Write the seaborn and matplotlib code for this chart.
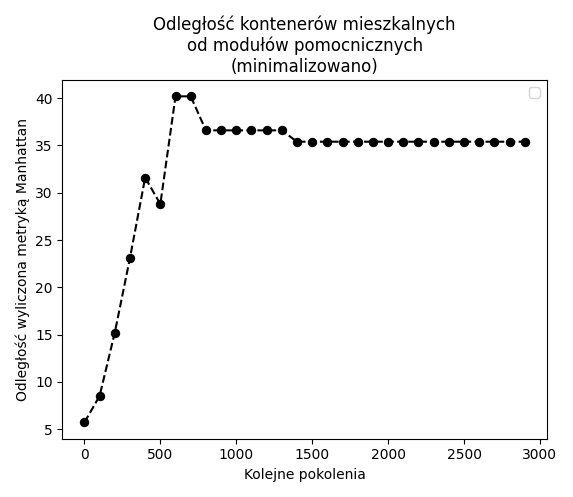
import numpy as np
import pandas as pd
import seaborn as sns
import matplotlib.pyplot as plt

# DADOS
pokolenia = list(range(0, 3000, 100))
odleglosc = [5.7, 8.5, 15.2, 23.1, 31.6, 28.8, 40.2, 40.2,
             36.6, 36.6, 36.6, 36.6, 36.6, 36.6] + [35.4] * 16

df = pd.DataFrame({"x": pokolenia, "y": odleglosc})

fig, ax = plt.subplots(figsize=(5.73, 4.97), dpi=100)
sns.lineplot(data=df, x="x", y="y", ax=ax, color="black", linestyle="--",
             marker="o", markersize=6, markeredgecolor="black")
ax.legend()
ax.set_title("Odległość kontenerów mieszkalnych\nod modułów pomocnicznych\n(minimalizowano)")
ax.set_xlabel("Kolejne pokolenia")
ax.set_ylabel("Odległość wyliczona metryką Manhattan")
plt.tight_layout()
plt.savefig("out.png", dpi=100)
